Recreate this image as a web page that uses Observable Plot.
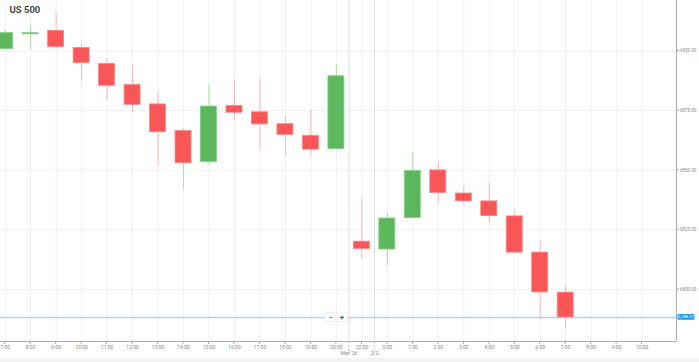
<!DOCTYPE html>
<html>
<head>
<meta charset="utf-8">
<script src="https://cdn.jsdelivr.net/npm/d3@7"></script>
<script src="https://cdn.jsdelivr.net/npm/@observablehq/plot@0.6"></script>
<style>
  html, body { margin: 0; padding: 0; background: #fff; }
  #chart svg { display: block; }
</style>
</head>
<body>
<div id="chart"></div>
<script>
const title = "US 500";
const timeLabels = ["7:00","8:00","9:00","10:00","11:00","12:00","13:00","14:00","15:00","16:00","17:00","18:00","19:00","20:00","22:00","0:00","1:00","2:00","3:00","4:00","5:00","6:00","7:00","8:00","9:00","10:00"];
const open  = [6900.75, 6907.0, 6908.5, 6901.3, 6894.6, 6885.7, 6877.6, 6866.4, 6853.4, 6877.0, 6874.3, 6869.3, 6864.4, 6858.8, 6820.0, 6816.7, 6829.9, 6849.9, 6840.2, 6836.9, 6830.6, 6815.4, 6798.6];
const close = [6907.5, 6907.5, 6901.6, 6894.9, 6885.4, 6877.4, 6865.9, 6852.9, 6876.7, 6874.1, 6869.2, 6864.8, 6858.6, 6889.4, 6816.9, 6829.7, 6849.6, 6840.4, 6836.9, 6830.7, 6815.4, 6798.7, 6788.2];
const high  = [6908.6, 6910.6, 6916.0, 6902.7, 6896.7, 6893.9, 6882.5, 6867.4, 6885.9, 6888.0, 6888.3, 6872.5, 6875.3, 6894.0, 6838.4, 6831.7, 6857.3, 6852.9, 6843.3, 6844.5, 6832.8, 6820.5, 6801.2];
const low   = [6900.5, 6900.5, 6900.75, 6887.3, 6879.5, 6874.2, 6851.8, 6842.0, 6852.0, 6871.1, 6858.6, 6856.0, 6855.5, 6858.5, 6812.4, 6809.6, 6829.8, 6836.2, 6835.5, 6827.8, 6814.9, 6787.4, 6783.5];
const yTicks = [6800, 6825, 6850, 6875, 6900];
const currentPrice = 6788.21;
const currentLabel = "6,788.21";
const sessionBreaks = [13.5, 14.5];
const sessionLabels = ["Mar '26", "3/2"];

const GREEN = "#5cb85c", GREEN_EDGE = "#86cf82", GREEN_WICK = "#a8dca4";
const RED = "#f95757", RED_EDGE = "#fb8585", RED_WICK = "#fbb4b4";
const half = 0.314;

const idx = d3.range(open.length);
const up = idx.filter(i => close[i] >= open[i]);
const down = idx.filter(i => close[i] < open[i]);
const slots = d3.range(timeLabels.length);
const xDomain = [-0.184, 26.35];

const chart = Plot.plot({
  width: 699,
  height: 362,
  marginLeft: 0,
  marginRight: 23,
  marginTop: 0,
  marginBottom: 21,
  style: { fontFamily: "Roboto, sans-serif", fontSize: "5px", color: "#888", background: "#fff", overflow: "visible" },
  x: { type: "linear", domain: xDomain, axis: null },
  y: { domain: [6778.1, 6921.2], axis: null },
  marks: [
    Plot.ruleX(slots, { x: d => d, stroke: "#f0f0f0" }),
    Plot.ruleY(yTicks, { y: d => d, stroke: "#f0f0f0" }),
    Plot.ruleX(sessionBreaks, { x: d => d, stroke: "#dedede" }),
    Plot.ruleY([currentPrice], { y: d => d, stroke: "#a6d6f4", strokeWidth: 1.5 }),
    // wicks
    Plot.ruleX(up, { x: i => i, y1: i => low[i], y2: i => high[i], stroke: GREEN_WICK }),
    Plot.ruleX(down, { x: i => i, y1: i => low[i], y2: i => high[i], stroke: RED_WICK }),
    // bodies
    Plot.rect(up, { x1: i => i - half, x2: i => i + half, y1: i => open[i], y2: i => close[i], fill: GREEN, stroke: GREEN_EDGE, strokeWidth: 0.8 }),
    Plot.rect(down, { x1: i => i - half, x2: i => i + half, y1: i => open[i], y2: i => close[i], fill: RED, stroke: RED_EDGE, strokeWidth: 0.8 }),
    // axis frame
    Plot.ruleX([xDomain[1]], { x: d => d, stroke: "#aaa" }),
    Plot.ruleY([6778.1], { y: d => d, x1: xDomain[0], x2: xDomain[1], stroke: "#aaa" }),
    // x tick labels
    Plot.text(slots, { x: d => d, frameAnchor: "bottom", dy: 7, text: d => timeLabels[d], fill: "#888", fontSize: 5 }),
    Plot.text(sessionBreaks, { x: d => d, frameAnchor: "bottom", dy: 13.5, text: (d, i) => sessionLabels[i], fill: "#888", fontSize: 5 }),
    // y tick labels
    Plot.text(yTicks, { y: d => d, frameAnchor: "right", dx: 3.5, textAnchor: "start", text: d => d.toFixed(2), fill: "#888", fontSize: 4.5 }),
    // title
    Plot.text([title], { frameAnchor: "top-left", dx: 9, dy: 6, textAnchor: "start", lineAnchor: "top", text: d => d, fill: "#444", fontWeight: "bold", fontSize: 9.5 })
  ]
});

document.getElementById("chart").appendChild(chart);

// extra chrome placed with the plot's own scales
const sx = chart.scale("x"), sy = chart.scale("y");
const svg = d3.select(chart);
const xr = sx.apply(xDomain[1]);
const yb = sy.apply(6778.1);

// ticks on x axis
svg.append("g").selectAll("line").data(slots).join("line")
  .attr("x1", d => sx.apply(d)).attr("x2", d => sx.apply(d))
  .attr("y1", yb).attr("y2", yb + 3).attr("stroke", "#aaa");
// dashed session ticks below axis
svg.append("g").selectAll("line").data(sessionBreaks).join("line")
  .attr("x1", d => sx.apply(d)).attr("x2", d => sx.apply(d))
  .attr("y1", yb).attr("y2", yb + 10).attr("stroke", "#bbb").attr("stroke-dasharray", "2,2");
// ticks on y axis
svg.append("g").selectAll("line").data(yTicks).join("line")
  .attr("x1", xr).attr("x2", xr + 3)
  .attr("y1", d => sy.apply(d)).attr("y2", d => sy.apply(d)).attr("stroke", "#aaa");

// current price label
const yp = sy.apply(currentPrice);
svg.append("rect").attr("x", xr + 1.5).attr("y", yp - 2.8).attr("width", 17).attr("height", 5.6)
  .attr("rx", 1).attr("fill", "#2196f3");
svg.append("text").attr("x", xr + 10).attr("y", yp).attr("dy", "0.35em").attr("text-anchor", "middle")
  .attr("fill", "#fff").attr("font-size", 4.2).attr("font-family", "Roboto, sans-serif").text(currentLabel);

// zoom control
const zc = sx.apply(13);
svg.append("rect").attr("x", zc - 11).attr("y", yp - 4).attr("width", 23).attr("height", 8.5)
  .attr("fill", "#fff").attr("stroke", "#eee");
svg.append("text").attr("x", zc - 5).attr("y", yp + 0.5).attr("dy", "0.35em").attr("text-anchor", "middle")
  .attr("fill", "#555").attr("font-size", 8).attr("font-family", "Roboto, sans-serif").text("−");
svg.append("text").attr("x", zc + 6).attr("y", yp + 0.5).attr("dy", "0.35em").attr("text-anchor", "middle")
  .attr("fill", "#555").attr("font-size", 8).attr("font-weight", "bold").attr("font-family", "Roboto, sans-serif").text("+");

// footer band
svg.append("rect").attr("x", 0).attr("y", 358).attr("width", 699).attr("height", 4).attr("fill", "#f3f3f3");
</script>
</body>
</html>
